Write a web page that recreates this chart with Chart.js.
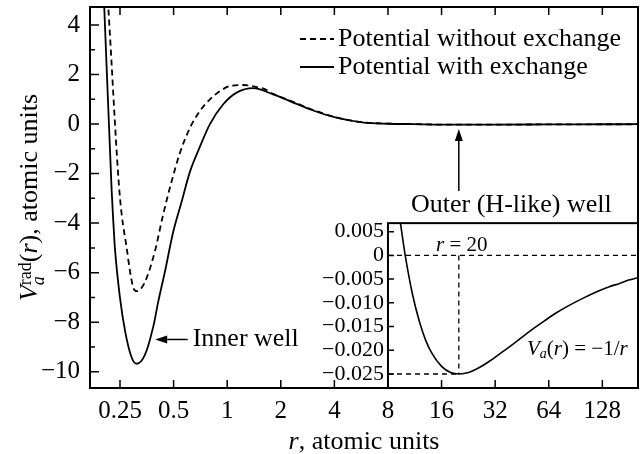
<!DOCTYPE html>
<html>
<head>
<meta charset="utf-8">
<script src="https://cdn.jsdelivr.net/npm/chart.js@4.4.0/dist/chart.umd.min.js"></script>
<style>
  html, body { margin: 0; padding: 0; background: #fff; }
  #wrap { width: 642px; height: 454px; }
</style>
</head>
<body>
<div id="wrap"><canvas id="potChart" width="642" height="454"></canvas></div>
<script>
// radial potential, main plot (atomic units)
const rWith = [0.200, 0.204, 0.2245, 0.2297, 0.234, 0.250, 0.267, 0.291, 0.310, 0.346, 0.385, 0.410, 0.447, 0.498, 0.555, 0.618, 0.703, 0.800, 0.950, 1.130, 1.40, 1.813, 2.25, 3.04, 4.1, 5.85, 8.0, 11.2, 16, 32, 64, 128, 203];
const vWith = [6.1, 4.69, -2.71, -4.04, -5.0, -7.02, -8.36, -9.44, -9.68, -9.30, -8.16, -7.17, -5.96, -4.34, -3.13, -1.92, -0.91, 0.0, 0.80, 1.27, 1.45, 1.2, 0.93, 0.55, 0.26, 0.06, 0.015, 0.0, -0.02, -0.02, -0.013, -0.007, -0.005];

const rWithout = [0.210, 0.215, 0.2456, 0.2555, 0.2726, 0.2844, 0.297, 0.310, 0.331, 0.353, 0.393, 0.437, 0.488, 0.543, 0.618, 0.703, 0.800, 0.911, 1.036, 1.23, 1.431, 1.6, 1.813, 2.25, 3.04, 4.1, 5.85, 8.0, 11.2, 16, 32, 64, 128, 203];
const vWithout = [5.83, 4.69, -2.30, -3.65, -5.0, -5.94, -6.61, -6.75, -6.61, -6.21, -5.13, -3.65, -2.30, -1.16, -0.15, 0.53, 1.0, 1.33, 1.54, 1.58, 1.51, 1.43, 1.22, 0.95, 0.57, 0.27, 0.07, 0.02, 0.0, -0.02, -0.02, -0.013, -0.007, -0.005];

// outer (H-like) well, inset
const rOuter = [9.4, 10, 11, 12, 13, 14, 16, 18, 20, 22, 24, 27, 30, 35, 40, 50, 60, 70, 80, 100, 120, 140, 160, 180, 203];
const vOuter = [0.0068, 0.0, -0.0083, -0.0139, -0.0178, -0.0204, -0.0234, -0.0247, -0.025, -0.0248, -0.0243, -0.0233, -0.0222, -0.0204, -0.0188, -0.016, -0.0139, -0.0122, -0.0109, -0.009, -0.0076, -0.0066, -0.0059, -0.0052, -0.0047];
const rOuterMin = 20;
const vOuterMin = -0.025;

const xTicks = [0.25, 0.5, 1, 2, 4, 8, 16, 32, 64, 128];
const yTicks = [-10, -8, -6, -4, -2, 0, 2, 4];
const yMinorTicks = [-9, -7, -5, -3, -1, 1, 3];
const insetTicks = [0.005, 0, -0.005, -0.010, -0.015, -0.020, -0.025];
const insetTickLabels = ['0.005', '0', '\u22120.005', '\u22120.010', '\u22120.015', '\u22120.020', '\u22120.025'];

const xMin = 0.1696, xMax = 203;
const insetLeftR = 8;
const insetTopV = 0.0068;

const serif = "'Liberation Serif', 'Times New Roman', serif";
const fnt = (size, italic) => (italic ? 'italic ' : '') + size + 'px ' + serif;
const pts = (xs, ys) => xs.map((x, i) => ({ x: x, y: ys[i] }));

// parts: [text, size, italic, dy, noAdvance]
const partsWidth = (ctx, parts) => {
  let w = 0;
  parts.forEach(p => {
    ctx.font = fnt(p[1], p[2]);
    if (!p[4]) w += ctx.measureText(p[0]).width;
  });
  return w;
};
const drawParts = (ctx, parts, x, y) => {
  let cx = x;
  parts.forEach(p => {
    ctx.font = fnt(p[1], p[2]);
    ctx.fillText(p[0], cx, y + (p[3] || 0));
    if (!p[4]) cx += ctx.measureText(p[0]).width;
  });
};

const arrow = (ctx, x1, y1, x2, y2) => {
  // from (x1,y1) to tip (x2,y2)
  const a = Math.atan2(y2 - y1, x2 - x1);
  const len = 12, hw = 4;
  ctx.beginPath();
  ctx.moveTo(x1, y1);
  ctx.lineTo(x2 - len * Math.cos(a), y2 - len * Math.sin(a));
  ctx.lineWidth = 1.5;
  ctx.stroke();
  ctx.beginPath();
  ctx.moveTo(x2, y2);
  ctx.lineTo(x2 - len * Math.cos(a) - hw * Math.sin(a), y2 - len * Math.sin(a) + hw * Math.cos(a));
  ctx.lineTo(x2 - len * Math.cos(a) + hw * Math.sin(a), y2 - len * Math.sin(a) - hw * Math.cos(a));
  ctx.closePath();
  ctx.fill();
};

const decorPlugin = {
  id: 'decor',
  beforeDatasetsDraw(chart) {
    const { ctx, chartArea, scales } = chart;
    const left = scales.x.getPixelForValue(insetLeftR);
    const top = scales.yIn.getPixelForValue(insetTopV);
    ctx.save();
    ctx.fillStyle = '#fff';
    ctx.fillRect(left, top, chartArea.right - left, chartArea.bottom - top);
    ctx.restore();
  },
  afterDraw(chart) {
    const { ctx, chartArea: ca, scales } = chart;
    const x = scales.x, y = scales.y, yIn = scales.yIn;
    ctx.save();
    ctx.strokeStyle = '#000';
    ctx.fillStyle = '#000';

    // ticks
    ctx.lineWidth = 1.5;
    ctx.beginPath();
    xTicks.forEach(v => {
      const px = x.getPixelForValue(v);
      ctx.moveTo(px, ca.bottom); ctx.lineTo(px, ca.bottom - 8);
      ctx.moveTo(px, ca.top); ctx.lineTo(px, ca.top + 8);
    });
    yTicks.forEach(v => {
      const py = y.getPixelForValue(v);
      ctx.moveTo(ca.left, py); ctx.lineTo(ca.left + 9, py);
    });
    yMinorTicks.forEach(v => {
      const py = y.getPixelForValue(v);
      ctx.moveTo(ca.left, py); ctx.lineTo(ca.left + 5, py);
    });
    const inL = x.getPixelForValue(insetLeftR);
    const inT = yIn.getPixelForValue(insetTopV);
    insetTicks.forEach(v => {
      const py = yIn.getPixelForValue(v);
      ctx.moveTo(inL, py); ctx.lineTo(inL + 6, py);
    });
    ctx.stroke();

    // frames
    ctx.lineWidth = 2;
    ctx.strokeRect(ca.left, ca.top, ca.right - ca.left, ca.bottom - ca.top);
    ctx.strokeRect(inL, inT, ca.right - inL, ca.bottom - inT);

    // inset tick labels
    ctx.font = fnt(22, false);
    ctx.textAlign = 'right';
    ctx.textBaseline = 'middle';
    insetTicks.forEach((v, i) => {
      ctx.fillText(insetTickLabels[i], inL - 4, yIn.getPixelForValue(v));
    });

    // axis titles
    ctx.textAlign = 'left';
    ctx.textBaseline = 'alphabetic';
    const xt = [['r', 26, true], [', atomic units', 26, false]];
    drawParts(ctx, xt, (ca.left + ca.right) / 2 - partsWidth(ctx, xt) / 2, 449);

    const yt = [['V', 26, true], ['a', 18, true, 7, true], ['rad', 18, false, -6],
      ['(', 26, false], ['r', 26, true], [')', 26, false], [', atomic units', 26, false]];
    ctx.save();
    ctx.translate(37, (ca.top + ca.bottom) / 2);
    ctx.rotate(-Math.PI / 2);
    drawParts(ctx, yt, -partsWidth(ctx, yt) / 2, 0);
    ctx.restore();

    // legend
    ctx.lineWidth = 1.8;
    ctx.setLineDash([6, 4]);
    ctx.beginPath(); ctx.moveTo(300, 39); ctx.lineTo(334, 39); ctx.stroke();
    ctx.setLineDash([]);
    ctx.beginPath(); ctx.moveTo(300, 67); ctx.lineTo(334, 67); ctx.stroke();
    ctx.font = fnt(26, false);
    ctx.textBaseline = 'middle';
    ctx.fillText('Potential without exchange', 338, 39.5);
    ctx.fillText('Potential with exchange', 338, 67.5);

    // annotations
    const innerY = y.getPixelForValue(-8.7);
    arrow(ctx, x.getPixelForValue(0.60), innerY, x.getPixelForValue(0.394), innerY);
    ctx.font = fnt(26, false);
    ctx.fillText('Inner well', x.getPixelForValue(0.64), innerY);

    const outerX = x.getPixelForValue(rOuterMin);
    arrow(ctx, outerX, y.getPixelForValue(-2.7), outerX, y.getPixelForValue(-0.2));
    ctx.fillText('Outer (H-like) well', 411, 205);

    ctx.textBaseline = 'middle';
    drawParts(ctx, [['r', 21, true], [' = 20', 21, false]], 436, 245);
    drawParts(ctx, [['V', 21, true], ['a', 14, true, 5], ['(', 21, false], ['r', 21, true],
      [') = \u22121/', 21, false], ['r', 21, true]], 527, 349);

    ctx.restore();
  }
};

const tickFont = { family: serif, size: 25 };

new Chart(document.getElementById('potChart'), {
  type: 'line',
  data: {
    datasets: [
      {
        label: 'Potential with exchange',
        data: pts(rWith, vWith),
        yAxisID: 'y',
        borderColor: '#000',
        borderWidth: 1.8,
        pointRadius: 0,
        cubicInterpolationMode: 'monotone'
      },
      {
        label: 'Potential without exchange',
        data: pts(rWithout, vWithout),
        yAxisID: 'y',
        borderColor: '#000',
        borderWidth: 1.8,
        borderDash: [6, 4],
        pointRadius: 0,
        cubicInterpolationMode: 'monotone'
      },
      {
        label: 'Outer well',
        data: pts(rOuter, vOuter),
        yAxisID: 'yIn',
        borderColor: '#000',
        borderWidth: 1.6,
        pointRadius: 0,
        cubicInterpolationMode: 'monotone'
      },
      {
        label: 'zero',
        data: [{ x: insetLeftR, y: 0 }, { x: xMax, y: 0 }],
        yAxisID: 'yIn',
        borderColor: '#000',
        borderWidth: 1.3,
        borderDash: [5, 4],
        pointRadius: 0
      },
      {
        label: 'min r',
        data: [{ x: rOuterMin, y: 0 }, { x: rOuterMin, y: vOuterMin }],
        yAxisID: 'yIn',
        borderColor: '#000',
        borderWidth: 1.3,
        borderDash: [5, 4],
        pointRadius: 0
      },
      {
        label: 'min V',
        data: [{ x: insetLeftR, y: vOuterMin }, { x: rOuterMin, y: vOuterMin }],
        yAxisID: 'yIn',
        borderColor: '#000',
        borderWidth: 1.3,
        borderDash: [5, 4],
        pointRadius: 0
      }
    ]
  },
  options: {
    responsive: false,
    animation: false,
    devicePixelRatio: 1,
    layout: { autoPadding: false, padding: { left: 0, right: 4, top: 7, bottom: 0 } },
    plugins: { legend: { display: false }, tooltip: { enabled: false } },
    scales: {
      x: {
        type: 'logarithmic',
        min: xMin,
        max: xMax,
        grid: { display: false, drawTicks: false },
        border: { display: false },
        ticks: { font: tickFont, color: '#000', padding: 8, autoSkip: false, maxRotation: 0, callback: v => String(v) },
        afterBuildTicks: s => { s.ticks = xTicks.map(v => ({ value: v })); },
        afterFit: s => { s.height = 66; s.paddingLeft = 0; s.paddingRight = 0; }
      },
      y: {
        type: 'linear',
        min: -10.66,
        max: 4.73,
        grid: { display: false, drawTicks: false },
        border: { display: false },
        ticks: { font: tickFont, color: '#000', padding: 10, callback: v => (v < 0 ? '\u2212' + (-v) : String(v)) },
        afterBuildTicks: s => { s.ticks = yTicks.map(v => ({ value: v })); },
        afterFit: s => { s.width = 90; s.paddingTop = 0; s.paddingBottom = 0; }
      },
      yIn: {
        type: 'linear',
        display: false,
        min: -0.02795,
        max: 0.05236
      }
    }
  },
  plugins: [decorPlugin]
});
</script>
</body>
</html>
